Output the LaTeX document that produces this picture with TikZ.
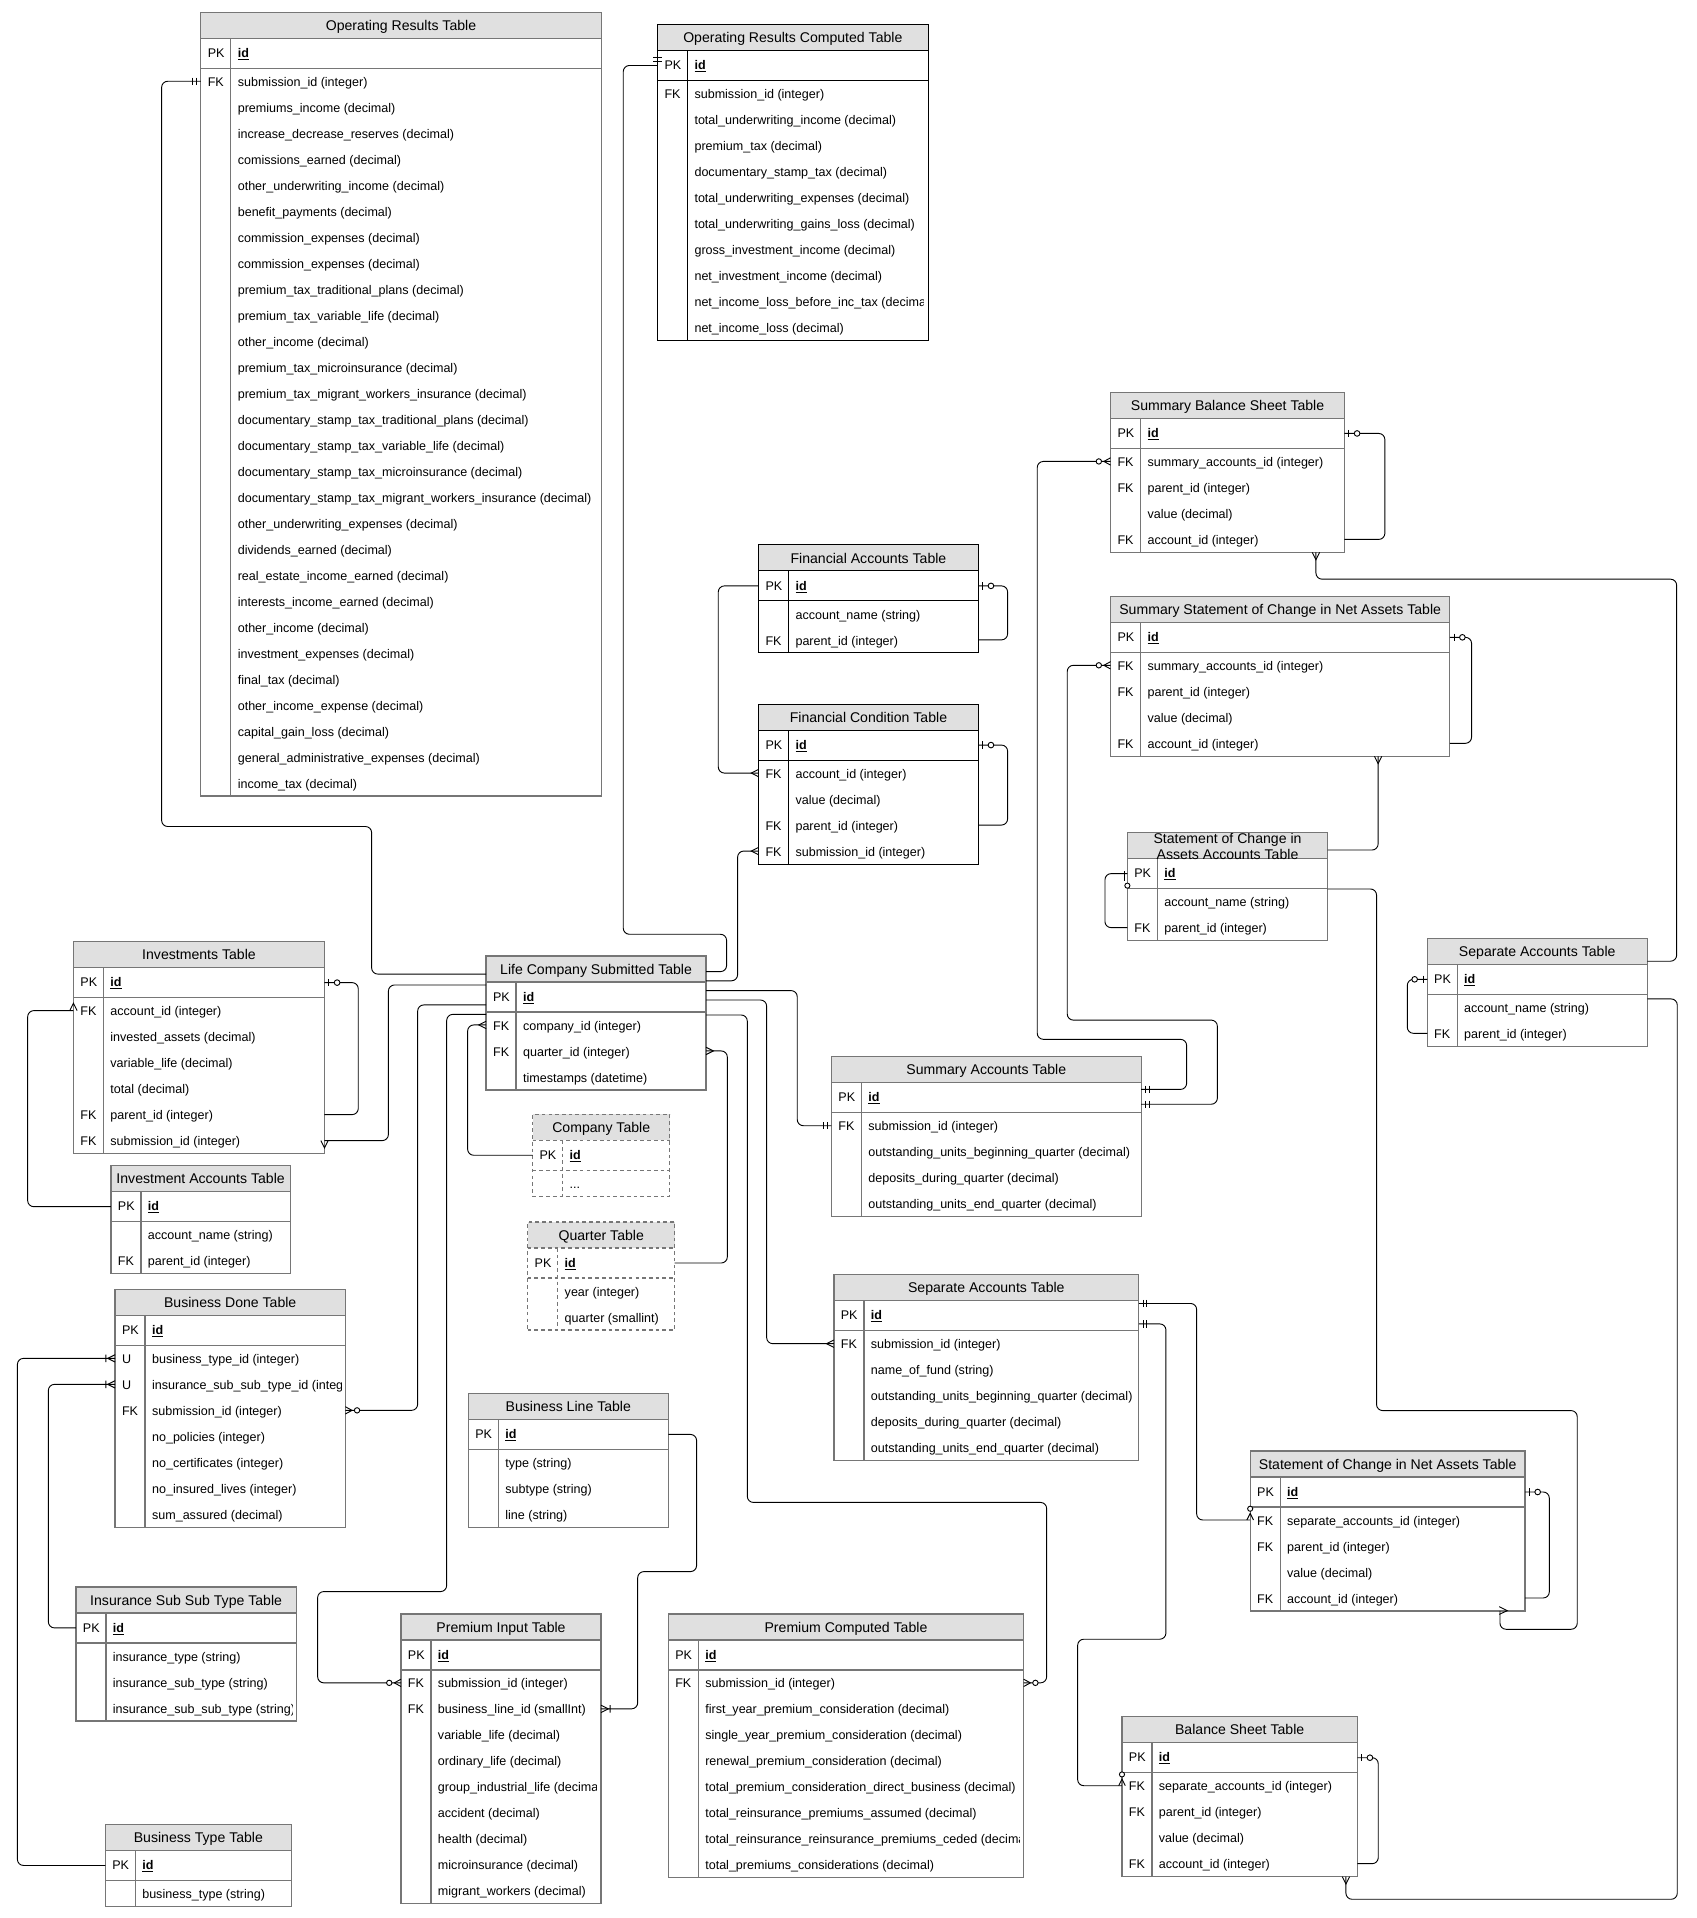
\documentclass[tikz,border=0pt]{standalone}
\usepackage{fontspec}
\setmainfont{Liberation Sans}
\usetikzlibrary{calc}
\definecolor{tgray}{RGB}{118,118,118}
\definecolor{headgray}{RGB}{224,224,224}
\newcommand{\threedots}{...}
\tikzset{
  erhead/.style={fill=headgray},
  ertitle/.style={font=\fontsize{11.5}{12.5}\selectfont, inner sep=0pt, anchor=base},
  ertext/.style={font=\fontsize{10.25}{12}\selectfont, inner sep=0pt, anchor=base west},
  erline/.style={draw=tgray, line width=1.1pt},
  erbox/.style={draw=tgray, line width=1.1pt, inner sep=0pt, outer sep=0pt},
  blackt/.style={draw=black, line width=0.8pt},
  dashedt/.style={dash pattern=on 3pt off 2.5pt},
  conn/.style={line width=0.75pt, rounded corners=5pt},
  mk/.style={line width=0.75pt},
}
\def\titleyoff{4.2}
\newcommand{\ertable}[7][]{%
  \pgfmathsetmacro\tx{#3}%
  \pgfmathsetmacro\ty{#4}%
  \pgfmathsetmacro\tw{#5}%
  \pgfmathsetmacro\txr{\tx+\tw}%
  \pgfmathsetmacro\tyh{\ty+21.23}%
  \pgfmathsetmacro\typ{\tyh+24.5}%
  \pgfmathsetmacro\typc{\ty+33.48}%
  \pgfmathsetmacro\txd{\tx+24.5}%
  \gdef\nrows{0}%
  \foreach \ekey/\etxt [count=\ei] in {#7} {\xdef\nrows{\ei}}%
  \pgfmathsetmacro\tyb{\typ+\nrows*21.23}%
  \pgfmathsetmacro\tht{\tyb-\ty}%
  \fill[erhead] (\tx,\ty) rectangle (\txr,\tyh);
  \node[ertitle] (#2-title) at ({\tx+\tw/2},{\ty+10.615+\titleyoff}) {#6};
  \node[ertext] (#2-pkk) at (\tx+5.5,\typc+3.4) {PK};
  \node[ertext] (#2-pkt) at (\txd+5.5,\typc+3.4) {\underline{\textbf{id}}};
  \coordinate (#2-pkw) at (\tx,\typc);
  \coordinate (#2-pke) at (\txr,\typc);
  \begin{scope}
    \clip (\tx,\tyh) rectangle (\txr-3.5,\tyb);
    \foreach \ekey/\etxt [count=\ei] in {#7} {
      \pgfmathsetmacro\ry{\typ+(\ei-0.5)*21.23}
      \node[ertext] (#2-k\ei) at (\tx+5.5,\ry+4.2) {\ekey};
      \node[ertext] (#2-t\ei) at (\txd+5.5,\ry+4.2) {\etxt};
      \coordinate (#2-\ei w) at (\tx,\ry);
      \coordinate (#2-\ei e) at (\txr,\ry);
    }
  \end{scope}
  \draw[erline,#1] (\tx,\tyh) -- (\txr,\tyh) (\tx,\typ) -- (\txr,\typ) (\txd,\tyh) -- (\txd,\tyb);
  \node[erbox,#1,minimum width=\tw pt,minimum height=\tht pt,anchor=north west] (#2) at (\tx,\ty) {};
}
\newcommand{\mkOne}[2]{\begin{scope}[shift={(#1)},xscale=#2]\draw[mk] (3.5,-3)--(3.5,3) (6.5,-3)--(6.5,3);\end{scope}}
\newcommand{\mkZeroOne}[2]{\begin{scope}[shift={(#1)},xscale=#2]\draw[mk] (3.5,-3)--(3.5,3);\draw[mk,fill=white] (10.3,0) circle[radius=2.3];\end{scope}}
\newcommand{\mkMany}[2]{\begin{scope}[shift={(#1)},xscale=#2]\draw[mk] (0,-3)--(6,0)--(0,3);\end{scope}}
\newcommand{\mkZeroMany}[2]{\begin{scope}[shift={(#1)},xscale=#2]\draw[mk] (0,-3)--(5.5,0)--(0,3);\draw[mk,fill=white] (9.6,0) circle[radius=2.2];\end{scope}}
\newcommand{\mkOneMany}[2]{\begin{scope}[shift={(#1)},xscale=#2]\draw[mk] (0,-3)--(6,0)--(0,3) (7.5,-3)--(7.5,3);\end{scope}}
\newcommand{\mkManyV}[2]{\begin{scope}[shift={(#1)},yscale=#2]\draw[mk] (-3,0)--(0,6)--(3,0);\end{scope}}
\newcommand{\mkZeroManyV}[2]{\begin{scope}[shift={(#1)},yscale=#2]\draw[mk] (-2.7,0)--(0,5.4)--(2.7,0);\draw[mk,fill=white] (0,9.2) circle[radius=2.1];\end{scope}}

\begin{document}
\begin{tikzpicture}[x=1pt,y=-1pt]
\useasboundingbox (0,0) rectangle (1385.1,1566.4);
\fill[white] (0,0) rectangle (1385.1,1566.4);

% ---------------- tables ----------------
\ertable{OR}{164}{10}{327}{Operating Results Table}{FK/submission\_id (integer),/premiums\_income (decimal),/increase\_decrease\_reserves (decimal),/comissions\_earned (decimal),/other\_underwriting\_income (decimal),/benefit\_payments (decimal),/commission\_expenses (decimal),/commission\_expenses (decimal),/premium\_tax\_traditional\_plans (decimal),/premium\_tax\_variable\_life (decimal),/other\_income (decimal),/premium\_tax\_microinsurance (decimal),/premium\_tax\_migrant\_workers\_insurance (decimal),/documentary\_stamp\_tax\_traditional\_plans (decimal),/documentary\_stamp\_tax\_variable\_life (decimal),/documentary\_stamp\_tax\_microinsurance (decimal),/documentary\_stamp\_tax\_migrant\_workers\_insurance (decimal),/other\_underwriting\_expenses (decimal),/dividends\_earned (decimal),/real\_estate\_income\_earned (decimal),/interests\_income\_earned (decimal),/other\_income (decimal),/investment\_expenses (decimal),/final\_tax (decimal),/other\_income\_expense (decimal),/capital\_gain\_loss (decimal),/general\_administrative\_expenses (decimal),/income\_tax (decimal)}

\ertable[blackt]{ORC}{537}{20}{221}{Operating Results Computed Table}{FK/submission\_id (integer),/total\_underwriting\_income (decimal),/premium\_tax (decimal),/documentary\_stamp\_tax (decimal),/total\_underwriting\_expenses (decimal),/total\_underwriting\_gains\_loss (decimal),/gross\_investment\_income (decimal),/net\_investment\_income (decimal),/net\_income\_loss\_before\_inc\_tax (decimal),/net\_income\_loss (decimal)}

\ertable{SBS}{907}{320.5}{191}{Summary Balance Sheet Table}{FK/summary\_accounts\_id (integer),FK/parent\_id (integer),/value (decimal),FK/account\_id (integer)}

\ertable[blackt]{FA}{619.5}{445}{179.5}{Financial Accounts Table}{/account\_name (string),FK/parent\_id (integer)}

\ertable{SSCNA}{907}{487}{277}{Summary Statement of Change in Net Assets Table}{FK/summary\_accounts\_id (integer),FK/parent\_id (integer),/value (decimal),FK/account\_id (integer)}

\ertable[blackt]{FC}{619.5}{575}{179.5}{Financial Condition Table}{FK/account\_id (integer),/value (decimal),FK/parent\_id (integer),FK/submission\_id (integer)}

\def\titleyoff{-1.8}
\ertable{SCAA}{920.7}{680}{163.6}{Statement of Change in}{/account\_name (string),FK/parent\_id (integer)}
\def\titleyoff{4.2}
\node[ertitle] (SCAA-title2) at (1002.5,701.6) {Assets Accounts Table};

\ertable{INV}{60}{769}{205}{Investments Table}{FK/account\_id (integer),/invested\_assets (decimal),/variable\_life (decimal),/total (decimal),FK/parent\_id (integer),FK/submission\_id (integer)}

\ertable{LCS}{397}{780.7}{179.6}{Life Company Submitted Table}{FK/company\_id (integer),FK/quarter\_id (integer),/timestamps (datetime)}

\ertable{SA}{1165.6}{766.3}{179.7}{Separate Accounts Table}{/account\_name (string),FK/parent\_id (integer)}

\ertable{SUMA}{679}{863}{253}{Summary Accounts Table}{FK/submission\_id (integer),/outstanding\_units\_beginning\_quarter (decimal),/deposits\_during\_quarter (decimal),/outstanding\_units\_end\_quarter (decimal)}

\ertable[dashedt]{CO}{435}{910}{112}{Company Table}{/\threedots}

\ertable{IA}{90.6}{952}{146.5}{Investment Accounts Table}{/account\_name (string),FK/parent\_id (integer)}

\ertable[dashedt]{QT}{431}{998}{120}{Quarter Table}{/year (integer),/quarter (smallint)}

\ertable{SA2}{681}{1041}{249}{Separate Accounts Table}{FK/submission\_id (integer),/name\_of\_fund (string),/outstanding\_units\_beginning\_quarter (decimal),/deposits\_during\_quarter (decimal),/outstanding\_units\_end\_quarter (decimal)}

\ertable{BD}{94}{1053}{188}{Business Done Table}{U/business\_type\_id (integer),U/insurance\_sub\_sub\_type\_id (integer),FK/submission\_id (integer),/no\_policies (integer),/no\_certificates (integer),/no\_insured\_lives (integer),/sum\_assured (decimal)}

\ertable{BL}{382.5}{1138}{163.3}{Business Line Table}{/type (string),/subtype (string),/line (string)}

\ertable{SCNA}{1021}{1185}{224.5}{Statement of Change in Net Assets Table}{FK/separate\_accounts\_id (integer),FK/parent\_id (integer),/value (decimal),FK/account\_id (integer)}

\ertable{ISST}{62}{1296}{180}{Insurance Sub Sub Type Table}{/insurance\_type (string),/insurance\_sub\_type (string),/insurance\_sub\_sub\_type (string)}

\ertable{PI}{327.5}{1318}{163.3}{Premium Input Table}{FK/submission\_id (integer),FK/business\_line\_id (smallInt),/variable\_life (decimal),/ordinary\_life (decimal),/group\_industrial\_life (decimal),/accident (decimal),/health (decimal),/microinsurance (decimal),/migrant\_workers (decimal)}

\ertable{PC}{545.8}{1318}{290.2}{Premium Computed Table}{FK/submission\_id (integer),/first\_year\_premium\_consideration (decimal),/single\_year\_premium\_consideration (decimal),/renewal\_premium\_consideration (decimal),/total\_premium\_consideration\_direct\_business (decimal),/total\_reinsurance\_premiums\_assumed (decimal),/total\_reinsurance\_reinsurance\_premiums\_ceded (decimal),/total\_premiums\_considerations (decimal)}

\ertable{BS}{916.3}{1402}{192.2}{Balance Sheet Table}{FK/separate\_accounts\_id (integer),FK/parent\_id (integer),/value (decimal),FK/account\_id (integer)}

\ertable{BT}{86}{1490}{152}{Business Type Table}{/business\_type (string)}

% ---------------- connection points ----------------
\coordinate (c1e) at (LCS.west |- 0,795.5);
\coordinate (c2e) at (LCS.east |- 0,793.5);
\coordinate (c3e) at (LCS.east |- 0,801);
\coordinate (c8e) at (SUMA.east |- 0,889.7);
\coordinate (c9s) at (1074.7,0 |- SBS.south);
\coordinate (c9e) at (SA.east |- 0,785);
\coordinate (c10s) at (1099.2,0 |- BS.south);
\coordinate (c10e) at (SA.east |- 0,815.8);
\coordinate (c11e) at (SUMA.east |- 0,901.8);
\coordinate (c13s) at (1125.5,0 |- SSCNA.south);
\coordinate (c13e) at (SCAA.east |- 0,694.2);
\coordinate (c14s) at (1225,0 |- SCNA.south);
\coordinate (c14e) at (SCAA.east |- 0,726);
\coordinate (c16s) at (SA2.east |- 0,1064.5);
\coordinate (c17s) at (SA2.east |- 0,1081.2);
\coordinate (c20s) at (LCS.east |- 0,809);
\coordinate (c21s) at (LCS.east |- 0,816.7);
\coordinate (c22s) at (LCS.east |- 0,828.9);
\coordinate (c25e) at (LCS.west |- 0,804.4);
\coordinate (c26e) at (LCS.west |- 0,820.7);
\coordinate (c27e) at (LCS.west |- 0,828.4);

% ---------------- connectors ----------------
\draw[conn] (OR-1w) -| (132,675) -| (303.5,795.5) -- (c1e);
\draw[conn] (ORC-pkw) -| (509,763) -| (593.4,793.5) -- (c2e);
\draw[conn] (FC-4w) -| (602.4,801) -- (c3e);
\draw[conn] (FA-pkw) -| (586.6,560) |- (FC-1w);
\draw[conn] (FA-pke) -| (822.9,500) |- (FA-2e);
\draw[conn] (FC-pke) -| (822.9,640) |- (FC-3e);
\draw[conn] (SBS-pke) -| (1131,400) |- (SBS-4e);
\draw[conn] (SBS-1w) -| (847.1,848.8) -| (969.1,870) |- (c8e);
\draw[conn] (c9s) |- (1369.3,473) |- (c9e);
\draw[conn] (c10s) |- (1369.8,1551.1) |- (c10e);
\draw[conn] (SSCNA-1w) -| (871.6,833.1) -| (994.2,870) |- (c11e);
\draw[conn] (SSCNA-pke) -| (1201.8,560) |- (SSCNA-4e);
\draw[conn] (c13s) |- (c13e);
\draw[conn] (c14s) |- (1288.1,1330.6) |- (1124.2,1152) |- (c14e);
\draw[conn] (SCNA-pke) -| (1265.3,1260) |- (SCNA-4e);
\draw[conn] (c16s) -| (977.3,1200) |- (SCNA-1w);
\draw[conn] (c17s) -| (952.2,1338.7) -| (880.1,1400) |- (BS-1w);
\draw[conn] (BS-pke) -| (1125.6,1480) |- (BS-4e);
\draw[conn] (SA-pkw) -| (1149.3,820) |- (SA-2w);
\draw[conn] (c20s) -| (651.1,870) |- (SUMA-1w);
\draw[conn] (c21s) -| (626.1,950) |- (SA2-1w);
\draw[conn] (c22s) -| (610.3,1227) -| (854.8,1300) |- (PC-1e);
\draw[conn] (LCS-1w) -| (381.9,900) |- (CO-pkw);
\draw[conn] (LCS-2e) -| (594,950) |- (QT-pke);
\draw[conn] (INV-6e) -| (317.2,804.4) -- (c25e);
\draw[conn] (BD-3e) -| (341.1,820.7) -- (c26e);
\draw[conn] (PI-1w) -| (259.4,1299.8) -| (364.8,828.4) -- (c27e);
\draw[conn] (INV-pke) -| (292.6,850) |- (INV-5e);
\draw[conn] (INV-1w) -| (22.6,900) |- (IA-pkw);
\draw[conn] (BD-1w) -| (14.2,1300) |- (BT-pkw);
\draw[conn] (BD-2w) -| (39.5,1200) |- (ISST-pkw);
\draw[conn] (BL-pke) -| (568.9,1283.5) -| (520.8,1350) |- (PI-2e);
\draw[conn] (SCAA-pkw) -| (902.4,740) |- (SCAA-2w);

% ---------------- markers ----------------
\mkOne{OR-1w}{-1}
\draw[mk] (533.5,49.8)--(540.5,49.8) (533.5,46.8)--(540.5,46.8);
\mkMany{FC-4w}{-1}
\mkMany{FC-1w}{-1}
\mkZeroOne{FA-pke}{1}
\mkZeroOne{FC-pke}{1}
\mkZeroOne{SBS-pke}{1}
\mkZeroMany{SBS-1w}{-1}
\mkOne{c8e}{1}
\mkManyV{c9s}{1}
\mkManyV{c10s}{1}
\mkZeroMany{SSCNA-1w}{-1}
\mkOne{c11e}{1}
\mkZeroOne{SSCNA-pke}{1}
\mkManyV{c13s}{1}
\draw[mk] (1224.4,1312.1) -- (1231,1315.4) -- (1224.4,1318.4);
\mkZeroOne{SCNA-pke}{1}
\mkOne{c16s}{1}
\mkZeroManyV{SCNA-1w}{-1}
\mkOne{c17s}{1}
\mkZeroManyV{BS-1w}{-1}
\mkZeroOne{BS-pke}{1}
\mkZeroOne{SA-pkw}{-1}
\mkOne{SUMA-1w}{-1}
\mkMany{SA2-1w}{-1}
\mkZeroMany{PC-1e}{1}
\mkMany{LCS-1w}{-1}
\mkMany{LCS-2e}{1}
\mkManyV{INV-6e}{1}
\mkZeroMany{BD-3e}{1}
\mkZeroMany{PI-1w}{-1}
\mkZeroOne{INV-pke}{1}
\mkManyV{INV-1w}{-1}
\mkOneMany{BD-1w}{-1}
\mkOneMany{BD-2w}{-1}
\mkOneMany{PI-2e}{1}
\draw[mk] (918.3,711.3)--(918.3,719.5);
\draw[mk,fill=white] (920.7,723.3) circle[radius=2.1];
\end{tikzpicture}
\end{document}
